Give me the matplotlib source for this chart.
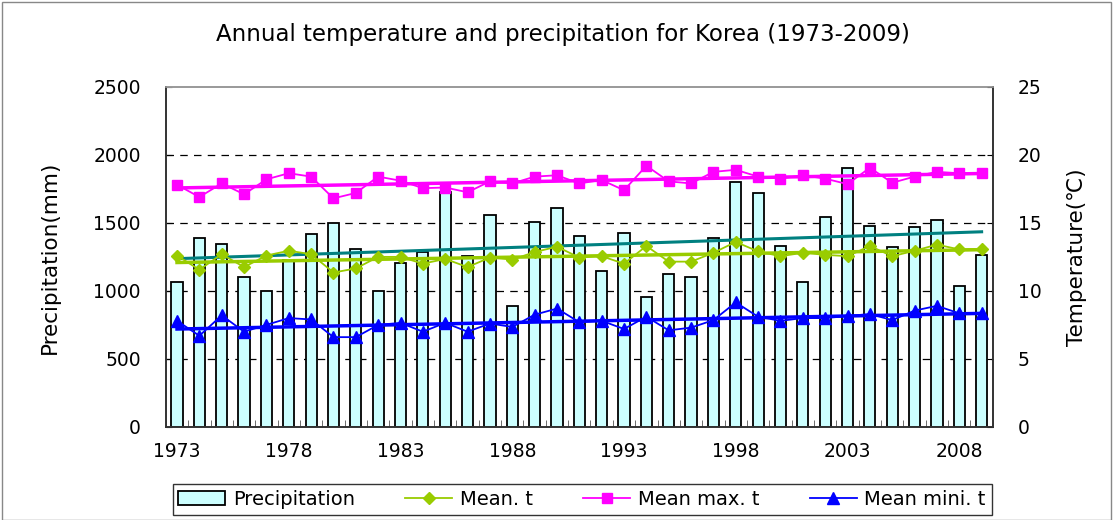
import numpy as np
import matplotlib
matplotlib.use('Agg')
from matplotlib import pyplot as plt
from matplotlib.patches import Rectangle

years = list(range(1973, 2010))

# annual precipitation (mm)
precip = [1065, 1387, 1348, 1105, 1002, 1230, 1419, 1497, 1309, 1002,
          1208, 1285, 1730, 1257, 1559, 892, 1510, 1610, 1400, 1147,
          1429, 953, 1125, 1105, 1390, 1801, 1723, 1328, 1069, 1542,
          1904, 1480, 1321, 1468, 1520, 1034, 1267]

# temperatures (C)
mean_t = [12.6, 11.55, 12.7, 11.75, 12.6, 12.95, 12.7, 11.35, 11.65, 12.5,
          12.5, 12.0, 12.35, 11.75, 12.45, 12.3, 12.85, 13.25, 12.45, 12.55,
          12.0, 13.3, 12.15, 12.15, 12.8, 13.6, 12.9, 12.55, 12.8, 12.65,
          12.55, 13.3, 12.55, 12.95, 13.4, 13.05, 13.1]
max_t = [17.8, 16.9, 17.9, 17.1, 18.2, 18.65, 18.4, 16.8, 17.2, 18.4,
         18.1, 17.55, 17.6, 17.25, 18.05, 17.9, 18.4, 18.5, 17.9, 18.15,
         17.4, 19.2, 18.05, 17.9, 18.75, 18.9, 18.4, 18.25, 18.5, 18.25,
         17.85, 19.05, 17.95, 18.4, 18.75, 18.65, 18.65]
min_t = [7.8, 6.7, 8.2, 7.0, 7.5, 8.0, 7.9, 6.6, 6.6, 7.5,
         7.65, 7.0, 7.65, 7.0, 7.6, 7.35, 8.25, 8.7, 7.7, 7.8,
         7.2, 8.1, 7.1, 7.3, 7.85, 9.15, 8.1, 7.8, 8.0, 8.0,
         8.15, 8.3, 7.85, 8.55, 8.9, 8.35, 8.35]

year_labels = [1973, 1978, 1983, 1988, 1993, 1998, 2003, 2008]

plt.rcParams['font.family'] = ['DejaVu Sans']

fig = plt.figure(figsize=(11.13, 5.2), dpi=100)
ax = fig.add_axes([0.149, 0.179, 0.743, 0.654])
ax2 = ax.twinx()

x = np.arange(len(years))

# linear trend lines
def trend(vals):
    p = np.polyfit(x, vals, 1)
    return np.polyval(p, x)

bars = ax.bar(x, precip, width=0.5, color='#CCFFFF', edgecolor='black',
              linewidth=1.3, zorder=2, label='Precipitation')
ax.plot(x, trend(precip), color='#008080', linewidth=2.2, zorder=3)

l1, = ax2.plot(x, mean_t, color='#99CC00', marker='D', markersize=6,
               linewidth=1.3, label='Mean. t')
ax2.plot(x, trend(mean_t), color='#99CC00', linewidth=2.5)
l2, = ax2.plot(x, max_t, color='#FF00FF', marker='s', markersize=7.5,
               linewidth=1.3, label='Mean max. t')
ax2.plot(x, trend(max_t), color='#FF00FF', linewidth=2.5)
l3, = ax2.plot(x, min_t, color='#0000FF', marker='^', markersize=8,
               linewidth=1.3, label='Mean mini. t')
ax2.plot(x, trend(min_t), color='#0000FF', linewidth=2.5)

ax.set_xlim(-0.5, len(years) - 0.5)
ax.set_ylim(0, 2500)
ax2.set_ylim(0, 25)
ax.set_yticks(range(0, 2501, 500))
ax2.set_yticks(range(0, 26, 5))

for v in range(500, 2500, 500):
    ax.axhline(v, color='black', linestyle=(0, (6, 5)), linewidth=0.9, zorder=1)

ax.set_xticks([years.index(y) for y in year_labels])
ax.set_xticklabels([str(y) for y in year_labels])
ax.set_xticks(np.arange(-0.5, len(years), 1), minor=True)
ax.tick_params(axis='x', which='major', length=0, labelsize=13.5, pad=11)
ax.tick_params(axis='x', which='minor', direction='in', length=5, color='#555555')
ax.tick_params(axis='y', direction='in', length=4, labelsize=13.5, pad=18)
ax2.tick_params(axis='y', direction='in', length=4, labelsize=13.5, pad=18)

for a in (ax, ax2):
    for s in a.spines.values():
        s.set_color('#333333')
        s.set_linewidth(1.2)
    a.spines['top'].set_color('#999999')

ax.set_ylabel('Precipitation(mm)', fontsize=15.5, labelpad=24)
ax2.set_ylabel('Temperature(℃)', fontsize=15.5, labelpad=18)

fig.text(0.506, 0.933, 'Annual temperature and precipitation for Korea (1973-2009)',
         ha='center', va='center', fontsize=16.5)

leg = fig.legend(handles=[bars, l1, l2, l3], loc='center', ncol=4,
                 bbox_to_anchor=(0.523, 0.04), fontsize=14, frameon=True,
                 fancybox=False, edgecolor='black', handlelength=2.4,
                 handletextpad=0.4, columnspacing=2.6, borderpad=0.3)
leg.get_frame().set_linewidth(1.0)

fig.patches.append(Rectangle((0.002, 0.0), 0.996, 0.997, transform=fig.transFigure,
                             fill=False, edgecolor='#888888', linewidth=1.0))

fig.savefig('out.png', dpi=100)
